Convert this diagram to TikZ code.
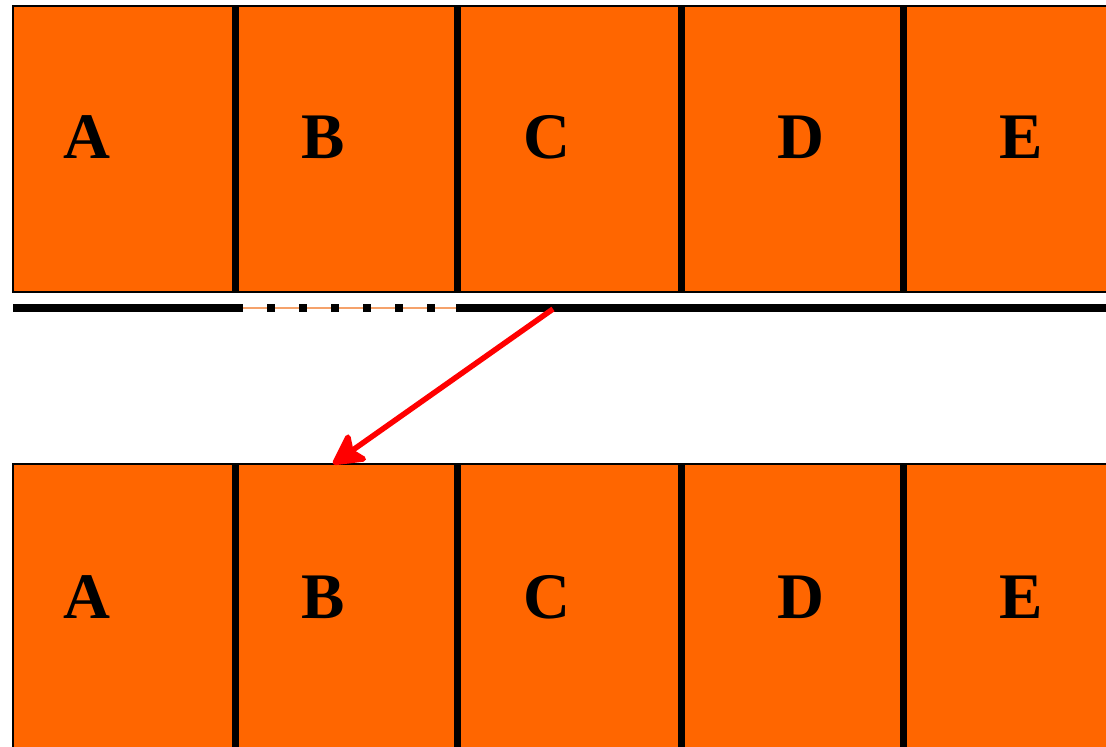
\documentclass[tikz,border=0pt]{standalone}
\usepackage{fontspec}
\setmainfont{Liberation Serif}
\usetikzlibrary{positioning,arrows.meta}
\definecolor{cellorange}{HTML}{FF6600}
\definecolor{gaporange}{HTML}{F5A26B}
\definecolor{arrowred}{HTML}{FF0000}

\begin{document}
\begin{tikzpicture}[x=1pt,y=-1pt,
    cell/.style={fill=cellorange,draw=none,minimum width=224pt,minimum height=286pt,
                 inner sep=0pt,outer sep=0pt,anchor=north west},
    letter/.style={font=\bfseries\fontsize{65}{65}\selectfont,anchor=base},
    wall/.style={line width=7pt},
    edge/.style={line width=2pt},
    rail/.style={line width=8pt}]
  \useasboundingbox (0,0) rectangle (1106,747);
  \clip (0,0) rectangle (1106,747);
  % cells, upper and lower row
  \foreach \n/\x in {A/13,B/235,C/457,D/681,E/903}{
    \node[cell] (t\n) at (\x,6) {};
    \node[cell] (b\n) at (\x,464) {};
  }
  \draw[edge] (1120,6) -- (13,6) -- (13,292) -- (1120,292);
  \draw[edge] (1120,464) -- (13,464) -- (13,760);
  \foreach \x in {235,457,681,903}{
    \draw[wall] (\x,6) -- (\x,292);
    \draw[wall] (\x,464) -- (\x,760);
  }
  % letters
  \foreach \n/\x in {A/87,B/323,C/547,D/801,E/1021}{
    \node[letter] (lt\n) at (\x,158) {\n};
    \node[letter] (lb\n) at (\x,618) {\n};
  }
  % rail with the open gap under B
  \draw[rail] (13,308) -- (235,308);
  \draw[rail] (456,308) -- (1120,308);
  \draw[gaporange,line width=1.5pt] (235,308) -- (456,308);
  \foreach \x in {239,271,...,431}
    \fill (\x-4,304) rectangle (\x+4,312);
  % move
  \coordinate (slot) at (553,309);
  \coordinate (dst) at (333,464);
  \draw[-{Stealth[round,length=36pt,width=38pt,inset=8pt]},arrowred,line width=5.5pt] (slot) -- (dst);
\end{tikzpicture}
\end{document}
